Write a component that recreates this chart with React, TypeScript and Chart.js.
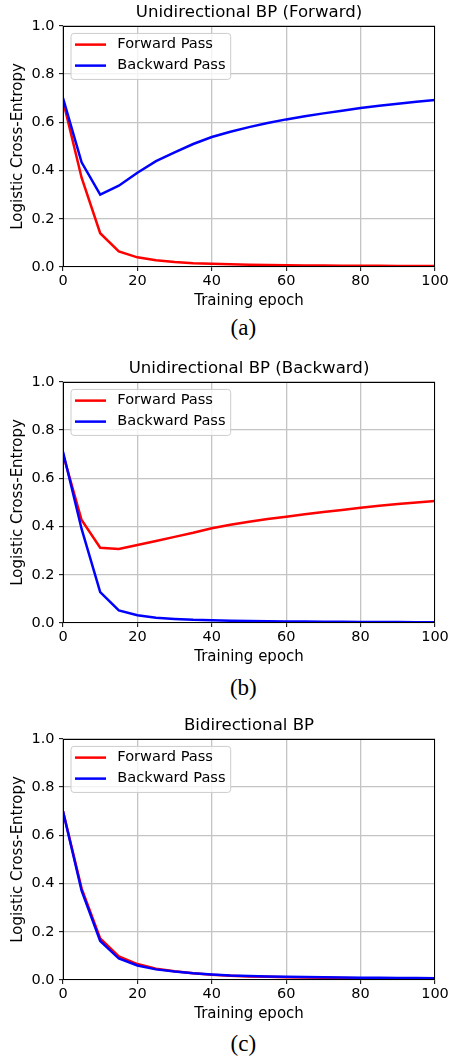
import React, { useEffect, useRef } from "react";
import { Chart, registerables } from "chart.js";

Chart.register(...registerables);

// ---------- data ----------
const epochs = [0, 5, 10, 15, 20, 25, 30, 35, 40, 45, 50, 55, 60, 65, 70, 75, 80, 85, 90, 95, 100];

const aForward = [0.69, 0.37, 0.14, 0.065, 0.04, 0.028, 0.021, 0.016, 0.013, 0.011, 0.009, 0.008, 0.007, 0.0065, 0.006, 0.0055, 0.005, 0.0048, 0.0045, 0.0042, 0.004];
const aBackward = [0.70, 0.434, 0.30, 0.337, 0.391, 0.439, 0.475, 0.51, 0.539, 0.561, 0.58, 0.597, 0.612, 0.625, 0.637, 0.648, 0.659, 0.669, 0.677, 0.685, 0.692];

const bForward = [0.70, 0.427, 0.312, 0.307, 0.323, 0.34, 0.357, 0.374, 0.393, 0.407, 0.42, 0.431, 0.441, 0.451, 0.46, 0.469, 0.478, 0.486, 0.493, 0.5, 0.506];
const bBackward = [0.71, 0.39, 0.128, 0.052, 0.032, 0.022, 0.017, 0.013, 0.011, 0.009, 0.008, 0.007, 0.006, 0.006, 0.005, 0.005, 0.004, 0.004, 0.004, 0.003, 0.003];

const cForward = [0.70, 0.38, 0.172, 0.098, 0.066, 0.047, 0.036, 0.028, 0.022, 0.018, 0.015, 0.013, 0.011, 0.01, 0.009, 0.008, 0.007, 0.007, 0.006, 0.006, 0.005];
const cBackward = [0.70, 0.37, 0.162, 0.089, 0.06, 0.044, 0.035, 0.028, 0.023, 0.019, 0.017, 0.015, 0.013, 0.012, 0.011, 0.01, 0.009, 0.009, 0.008, 0.008, 0.007];

const seriesLabels = ["Forward Pass", "Backward Pass"];
const panelTitles = ["Unidirectional BP (Forward)", "Unidirectional BP (Backward)", "Bidirectional BP"];
const captions = ["(a)", "(b)", "(c)"];
const xTicks = [0, 20, 40, 60, 80, 100];
const yTicks = [0.0, 0.2, 0.4, 0.6, 0.8, 1.0];
const xTitle = "Training epoch";
const yTitle = "Logistic Cross-Entropy";

// ---------- styling ----------
const SANS = "'DejaVu Sans', sans-serif";
const SERIF = "'Liberation Serif', 'Times New Roman', serif";
const RED = "#ff0000";
const BLUE = "#0000ff";
const LINE_W = 2.5;
const GRID = "#c4c4c4";
const GRID_W = 1.3;
const CANVAS_W = 452;
const CANVAS_H = 312;

const panels = [
  { top: 0, captionTop: 316, forward: aForward, backward: aBackward },
  { top: 356, captionTop: 676, forward: bForward, backward: bBackward },
  { top: 713, captionTop: 1032, forward: cForward, backward: cBackward },
];

const framePlugin = {
  id: "frame",
  afterDatasetsDraw(chart: any) {
    const { ctx, chartArea } = chart;
    const l = Math.round(chartArea.left) + 0.5;
    const r = Math.round(chartArea.right) - 0.5;
    const t = Math.round(chartArea.top) + 0.5;
    const b = Math.round(chartArea.bottom) - 0.5;
    ctx.save();
    ctx.strokeStyle = "#000";
    ctx.lineWidth = 1;
    ctx.strokeRect(l, t, r - l, b - t);
    ctx.restore();
  },
};

const legendBoxPlugin = {
  id: "legendBox",
  afterDraw(chart: any) {
    const { ctx, chartArea } = chart;
    const x0 = chartArea.left + 8;
    const y0 = chartArea.top + 7.6;
    const w = 159.7;
    const h = 46;
    const rad = 3;
    ctx.save();
    ctx.beginPath();
    ctx.moveTo(x0 + rad, y0);
    ctx.lineTo(x0 + w - rad, y0);
    ctx.arcTo(x0 + w, y0, x0 + w, y0 + rad, rad);
    ctx.lineTo(x0 + w, y0 + h - rad);
    ctx.arcTo(x0 + w, y0 + h, x0 + w - rad, y0 + h, rad);
    ctx.lineTo(x0 + rad, y0 + h);
    ctx.arcTo(x0, y0 + h, x0, y0 + h - rad, rad);
    ctx.lineTo(x0, y0 + rad);
    ctx.arcTo(x0, y0, x0 + rad, y0, rad);
    ctx.closePath();
    ctx.fillStyle = "rgba(255,255,255,0.8)";
    ctx.fill();
    ctx.strokeStyle = "#cccccc";
    ctx.lineWidth = 1;
    ctx.stroke();

    const rows = [18.8, 39.8];
    chart.data.datasets.forEach((ds: any, i: number) => {
      const y = chartArea.top + rows[i];
      ctx.beginPath();
      ctx.strokeStyle = ds.borderColor;
      ctx.lineWidth = ds.borderWidth;
      ctx.moveTo(chartArea.left + 12, y);
      ctx.lineTo(chartArea.left + 43, y);
      ctx.stroke();
      ctx.fillStyle = "#000";
      ctx.font = `14.6px ${SANS}`;
      ctx.textAlign = "left";
      ctx.textBaseline = "middle";
      ctx.fillText(ds.label, chartArea.left + 54.3, y);
    });
    ctx.restore();
  },
};

function Panel({ title, forward, backward, top }: { title: string; forward: number[]; backward: number[]; top: number }) {
  const ref = useRef<HTMLCanvasElement | null>(null);
  useEffect(() => {
    if (!ref.current) return;
    const chart = new Chart(ref.current, {
      type: "line",
      data: {
        datasets: [
          {
            label: seriesLabels[0],
            data: epochs.map((x, i) => ({ x, y: forward[i] })),
            borderColor: RED,
            backgroundColor: RED,
            borderWidth: LINE_W,
            pointRadius: 0,
            tension: 0,
            fill: false,
            order: 1,
          },
          {
            label: seriesLabels[1],
            data: epochs.map((x, i) => ({ x, y: backward[i] })),
            borderColor: BLUE,
            backgroundColor: BLUE,
            borderWidth: LINE_W,
            pointRadius: 0,
            tension: 0,
            fill: false,
            order: 0,
          },
        ],
      },
      options: {
        animation: false,
        responsive: false,
        maintainAspectRatio: false,
        devicePixelRatio: 1,
        color: "#000",
        layout: { padding: { left: 0, right: 17, top: 0, bottom: 0 } },
        font: { family: SANS },
        plugins: {
          legend: { display: false },
          tooltip: { enabled: false },
          title: {
            display: true,
            text: title,
            color: "#000",
            fullSize: false,
            font: { family: SANS, size: 16.6, weight: "normal" },
            padding: { top: 2.6, bottom: 3.3 },
          },
        },
        scales: {
          x: {
            type: "linear",
            min: 0,
            max: 100,
            afterBuildTicks: (s: any) => {
              s.ticks = xTicks.map((v) => ({ value: v }));
            },
            afterFit: (s: any) => {
              s.height = 45;
            },
            ticks: {
              color: "#000",
              font: { family: SANS, size: 14.5 },
              padding: 2,
              autoSkip: false,
              maxRotation: 0,
              callback: (v: any) => String(v),
            },
            grid: {
              color: GRID,
              lineWidth: GRID_W,
              drawTicks: true,
              tickLength: 4,
              tickColor: "#000",
              tickWidth: 1,
            },
            border: { display: false },
            title: {
              display: true,
              text: xTitle,
              color: "#000",
              font: { family: SANS, size: 15 },
              padding: { top: 0, bottom: 2 },
            },
          },
          y: {
            type: "linear",
            min: 0,
            max: 1,
            afterBuildTicks: (s: any) => {
              s.ticks = yTicks.map((v) => ({ value: v }));
            },
            afterFit: (s: any) => {
              s.width = 63;
            },
            ticks: {
              color: "#000",
              font: { family: SANS, size: 14.5 },
              padding: 4.5,
              autoSkip: false,
              callback: (v: any) => Number(v).toFixed(1),
            },
            grid: {
              color: GRID,
              lineWidth: GRID_W,
              drawTicks: true,
              tickLength: 4,
              tickColor: "#000",
              tickWidth: 1,
            },
            border: { display: false },
            title: {
              display: true,
              text: yTitle,
              color: "#000",
              font: { family: SANS, size: 15 },
              padding: { top: 9.5, bottom: 0 },
            },
          },
        },
      },
      plugins: [framePlugin, legendBoxPlugin],
    } as any);
    return () => chart.destroy();
  }, [title, forward, backward]);

  return (
    <canvas
      ref={ref}
      width={CANVAS_W}
      height={CANVAS_H}
      style={{ position: "absolute", left: 0, top, width: CANVAS_W, height: CANVAS_H, display: "block" }}
    />
  );
}

export default function App() {
  return (
    <div
      style={{
        position: "absolute",
        left: 0,
        top: 0,
        width: 452,
        height: 1061,
        overflow: "hidden",
        background: "#fff",
      }}
    >
      {panels.map((p, i) => (
        <React.Fragment key={i}>
          <Panel title={panelTitles[i]} forward={p.forward} backward={p.backward} top={p.top} />
          <div
            style={{
              position: "absolute",
              left: 193.3,
              width: 100,
              top: p.captionTop,
              textAlign: "center",
              fontFamily: SERIF,
              fontSize: 23,
              lineHeight: "23px",
              color: "#000",
            }}
          >
            {captions[i]}
          </div>
        </React.Fragment>
      ))}
    </div>
  );
}
